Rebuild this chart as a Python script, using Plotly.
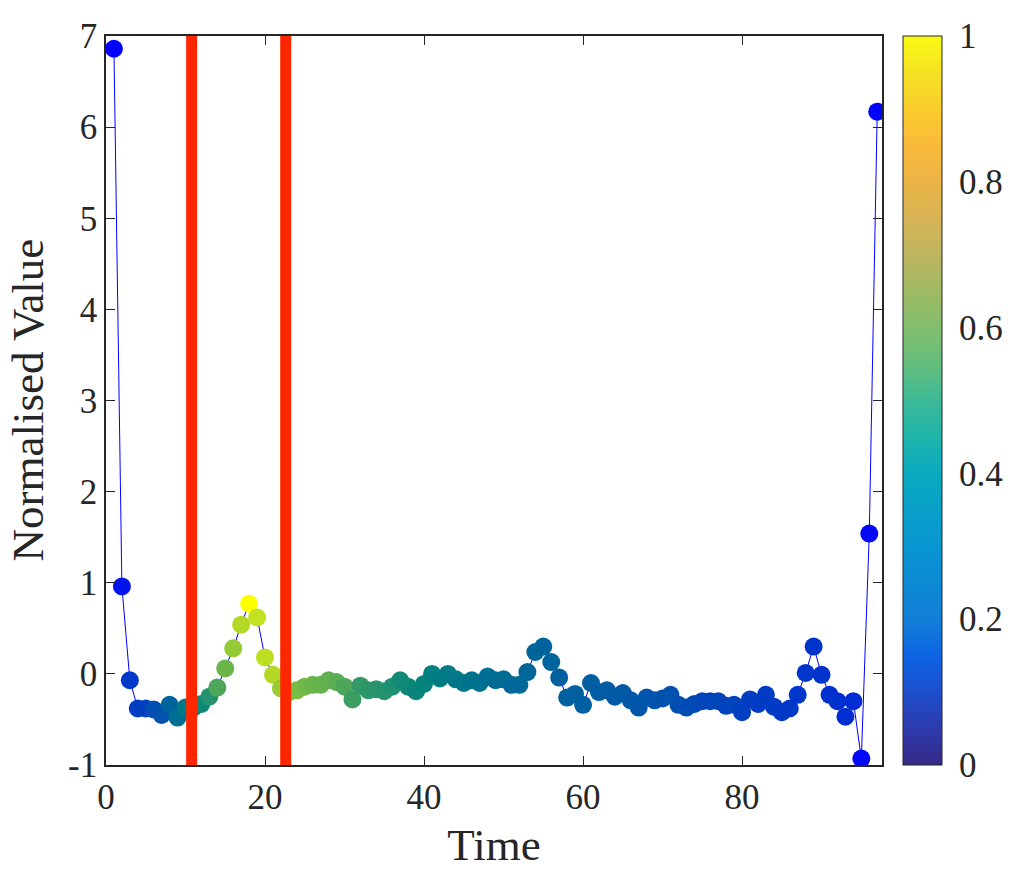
import plotly.graph_objects as go

time = list(range(1, 98))
values = [6.86, 0.96, -0.07, -0.38, -0.38, -0.39, -0.45, -0.34, -0.48, -0.37,
          -0.37, -0.33, -0.25, -0.15, 0.06, 0.28, 0.54, 0.77, 0.62, 0.18,
          -0.01, -0.16, -0.20, -0.18, -0.14, -0.12, -0.12, -0.07, -0.09, -0.14,
          -0.28, -0.13, -0.18, -0.17, -0.19, -0.14, -0.07, -0.14, -0.19, -0.11,
          0.00, -0.05, 0.00, -0.06, -0.10, -0.07, -0.10, -0.03, -0.07, -0.06,
          -0.12, -0.12, 0.02, 0.24, 0.30, 0.13, -0.04, -0.26, -0.22, -0.34,
          -0.10, -0.20, -0.18, -0.25, -0.21, -0.29, -0.37, -0.26, -0.29, -0.27,
          -0.23, -0.34, -0.37, -0.33, -0.30, -0.30, -0.30, -0.35, -0.34, -0.42,
          -0.28, -0.33, -0.23, -0.36, -0.42, -0.38, -0.23, 0.01, 0.30, -0.01,
          -0.23, -0.30, -0.47, -0.30, -0.93, 1.54, 6.17]
weights = [0.0, 0.08, 0.22, 0.24, 0.25, 0.30, 0.32, 0.39, 0.43, 0.47,
           0.50, 0.53, 0.57, 0.65, 0.71, 0.79, 0.85, 1.0, 0.88, 0.87,
           0.85, 0.80, 0.76, 0.74, 0.72, 0.71, 0.70, 0.69, 0.68, 0.65,
           0.62, 0.60, 0.59, 0.58, 0.57, 0.56, 0.54, 0.53, 0.52, 0.51,
           0.50, 0.49, 0.48, 0.47, 0.46, 0.45, 0.44, 0.43, 0.42, 0.42,
           0.41, 0.41, 0.40, 0.40, 0.39, 0.39, 0.38, 0.38, 0.38, 0.37,
           0.37, 0.36, 0.36, 0.35, 0.35, 0.34, 0.34, 0.33, 0.33, 0.32,
           0.32, 0.31, 0.30, 0.29, 0.28, 0.27, 0.27, 0.26, 0.26, 0.25,
           0.24, 0.24, 0.23, 0.23, 0.22, 0.22, 0.21, 0.21, 0.20, 0.20,
           0.19, 0.19, 0.18, 0.17, 0.03, 0.03, 0.02]
event_times = [10.77, 22.6]
x_ticks = [0, 20, 40, 60, 80]
y_ticks = [-1, 0, 1, 2, 3, 4, 5, 6, 7]
y_tick_text = ["-1", "0", "1", "2", "3", "4", "5", "6", "7"]
cbar_ticks = [0, 0.2, 0.4, 0.6, 0.8, 1]

marker_scale = [[0, "rgb(0,0,255)"], [0.5, "rgb(0,128,128)"], [1, "rgb(255,255,0)"]]
parula = [
    [0.0, "rgb(53,42,135)"], [0.05, "rgb(45,58,172)"], [0.1, "rgb(28,78,205)"],
    [0.15, "rgb(12,100,228)"], [0.2, "rgb(18,126,214)"], [0.3, "rgb(8,150,210)"],
    [0.4, "rgb(10,170,192)"], [0.45, "rgb(30,180,170)"], [0.5, "rgb(60,185,150)"],
    [0.55, "rgb(100,190,125)"], [0.6, "rgb(130,190,110)"], [0.65, "rgb(160,186,100)"],
    [0.7, "rgb(190,181,95)"], [0.75, "rgb(215,180,85)"], [0.8, "rgb(235,180,70)"],
    [0.85, "rgb(250,186,58)"], [0.9, "rgb(250,205,45)"], [0.95, "rgb(245,226,35)"],
    [1.0, "rgb(250,250,20)"],
]

FONT = "Liberation Serif"
TXT = "rgb(38,38,38)"
PLOT_W = 1013 - 106 - 131
CB_X = 1.027
CB_THICK = 39

fig = go.Figure()
fig.add_trace(go.Scatter(x=time, y=values, mode="lines",
                         line=dict(color="rgb(0,0,255)", width=1),
                         showlegend=False, hoverinfo="skip"))
fig.add_trace(go.Scatter(x=time, y=values, mode="markers",
                         marker=dict(size=18, color=weights, colorscale=marker_scale,
                                     cmin=0, cmax=1, showscale=False, line=dict(width=0)),
                         showlegend=False))
fig.add_trace(go.Scatter(x=[50], y=[3], mode="markers",
                         marker=dict(size=1, opacity=0, color=[0.5], colorscale=parula,
                                     cmin=0, cmax=1, showscale=True,
                                     colorbar=dict(
                                         x=CB_X, xanchor="left", xref="paper",
                                         y=0.5, yanchor="middle", len=1, lenmode="fraction",
                                         thickness=CB_THICK, thicknessmode="pixels",
                                         outlinewidth=1, outlinecolor=TXT,
                                         tickvals=cbar_ticks, ticktext=[f"{t:g}" for t in cbar_ticks],
                                         ticks="outside", ticklen=10, tickcolor="rgba(0,0,0,0)",
                                         tickfont=dict(family=FONT, size=35, color=TXT),
                                         ypad=0, xpad=0)),
                         showlegend=False, hoverinfo="skip"))

for t in event_times:
    fig.add_shape(type="line", xref="x", yref="paper", x0=t, x1=t, y0=0, y1=1,
                  line=dict(color="rgb(255,38,0)", width=11), layer="above")

# inside tick marks on the colour bar's right edge
cb_right = CB_X + CB_THICK / PLOT_W
for t in cbar_ticks[1:-1]:
    fig.add_shape(type="line", xref="paper", yref="paper",
                  x0=cb_right - 8 / PLOT_W, x1=cb_right, y0=t, y1=t,
                  line=dict(color=TXT, width=1))

axis_common = dict(showgrid=False, zeroline=False, showline=True, mirror="ticks",
                   linecolor=TXT, linewidth=1.5, ticks="inside", ticklen=9,
                   tickcolor=TXT, tickwidth=1.2, automargin=True,
                   tickfont=dict(family=FONT, size=35, color=TXT))

fig.add_annotation(text="Normalised Value", xref="paper", yref="paper",
                   x=(27 - 106) / PLOT_W, y=0.5, xanchor="center", yanchor="middle",
                   textangle=-90, showarrow=False,
                   font=dict(family=FONT, size=45, color=TXT))

fig.update_layout(
    width=1013, height=870,
    margin=dict(l=106, r=131, t=36, b=105, autoexpand=False),
    paper_bgcolor="white", plot_bgcolor="white",
    xaxis=dict(range=[0, 97.6], tickvals=x_ticks, **axis_common,
               title=dict(text="Time", font=dict(family=FONT, size=45, color=TXT), standoff=19)),
    yaxis=dict(range=[-1, 7], tickvals=y_ticks, ticktext=y_tick_text, **axis_common),
)

fig.write_html("out.html")
